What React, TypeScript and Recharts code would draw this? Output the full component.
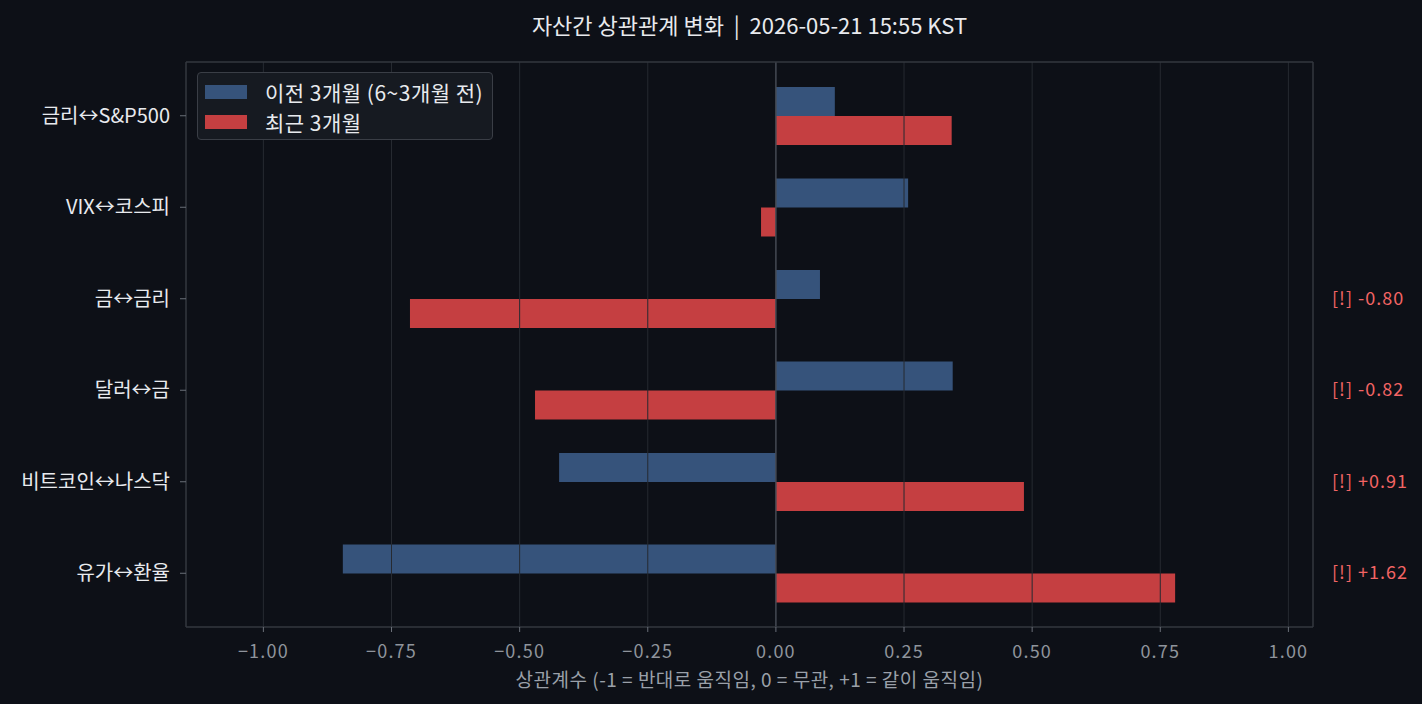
import React from 'react';
import { BarChart, Bar, XAxis, YAxis, ReferenceLine } from 'recharts';

const categories = ['금리↔S&P500', 'VIX↔코스피', '금↔금리', '달러↔금', '비트코인↔나스닥', '유가↔환율'];
const prev3m = [0.115, 0.258, 0.086, 0.345, -0.423, -0.845];
const recent3m = [0.343, -0.029, -0.714, -0.470, 0.484, 0.779];
const alerts = ['', '', '[!] -0.80', '[!] -0.82', '[!] +0.91', '[!] +1.62'];
const xTicks = [-1, -0.75, -0.5, -0.25, 0, 0.25, 0.5, 0.75, 1];
const seriesNames = ['이전 3개월 (6~3개월 전)', '최근 3개월'];

const X_MIN = -1.151;
const X_MAX = 1.048;
const Y_PAD = 8;

const BG = '#0d1017';
const FRAME = '#33373f';
const GRID = '#262a31';
const BLUE = '#36537b';
const RED = '#c53f41';
const FONT = '"Noto Sans CJK KR", "Noto Sans", sans-serif';

const data = categories.map((name, i) => ({
  name,
  prev: prev3m[i],
  recent: recent3m[i],
}));

const fmtTick = (v: number) => (v < 0 ? '\u2212' + Math.abs(v).toFixed(2) : v.toFixed(2));

const AlertTick = (props: any) => {
  const { x, y, payload } = props;
  const text = alerts[categories.indexOf(payload.value)] || '';
  if (!text) return null;
  return (
    <text x={x + 17} y={y} dy={6} fill="#f26464" fontSize={18} letterSpacing={1}
      fontFamily={FONT} textAnchor="start">
      {text}
    </text>
  );
};

const LegendBox = () => (
  <div
    style={{
      position: 'absolute', left: 197, top: 72, width: 294, height: 66,
      background: '#161a21', border: '1px solid #3a3e46', borderRadius: 4,
      boxSizing: 'content-box', fontFamily: FONT, color: '#e8eaee', fontSize: 21,
      letterSpacing: 0.5,
    }}
  >
    {seriesNames.map((label, i) => (
      <div key={label} style={{ position: 'absolute', left: 7, top: 4 + i * 30, height: 30, display: 'flex', alignItems: 'center', whiteSpace: 'nowrap' }}>
        <span style={{ display: 'inline-block', width: 42, height: 14, background: i === 0 ? BLUE : RED, marginRight: 18 }} />
        <span>{label}</span>
      </div>
    ))}
  </div>
);

export default function App() {
  return (
    <div style={{ position: 'absolute', left: 0, top: 0, width: 1422, height: 704, background: BG, overflow: 'hidden' }}>
      <div
        style={{
          position: 'absolute', left: 186, top: 9, width: 1127, textAlign: 'center',
          color: '#e8eaee', fontFamily: FONT, fontSize: 22, lineHeight: '30px', whiteSpace: 'pre',
        }}
      >
        {'자산간 상관관계 변화  |  2026-05-21 15:55 KST'}
      </div>
      <BarChart
        width={1422}
        height={704}
        data={data}
        layout="vertical"
        margin={{ top: 61, right: 0, bottom: 0, left: 0 }}
        barGap={0}
        barSize={29}
      >
        <XAxis
          type="number"
          domain={[X_MIN, X_MAX]}
          allowDataOverflow
          ticks={xTicks}
          tickFormatter={fmtTick}
          height={77}
          axisLine={{ stroke: FRAME, strokeWidth: 1.5 }}
          tickSize={5}
          tickMargin={13}
          tick={{ fill: '#8f949c', fontSize: 18, fontFamily: FONT, letterSpacing: 1.2 }}
          tickLine={{ stroke: '#6a6f78' }}
          label={{
            value: '상관계수 (-1 = 반대로 움직임, 0 = 무관, +1 = 같이 움직임)',
            position: 'insideBottom',
            offset: 17,
            fill: '#9aa0a9',
            fontSize: 19,
            fontFamily: FONT,
            letterSpacing: 0.5,
          }}
        />
        <XAxis
          xAxisId="top"
          orientation="top"
          type="number"
          domain={[X_MIN, X_MAX]}
          allowDataOverflow
          height={1}
          tick={false}
          tickLine={false}
          axisLine={{ stroke: FRAME, strokeWidth: 1.5 }}
        />
        <YAxis
          type="category"
          dataKey="name"
          width={186}
          padding={{ top: Y_PAD, bottom: Y_PAD }}
          axisLine={{ stroke: FRAME, strokeWidth: 1.5 }}
          tickSize={6}
          tickMargin={10}
          tickLine={{ stroke: '#6a6f78' }}
          tick={{ fill: '#e8eaee', fontSize: 20, fontFamily: FONT }}
        />
        <YAxis
          yAxisId="right"
          orientation="right"
          type="category"
          dataKey="name"
          width={109}
          padding={{ top: Y_PAD, bottom: Y_PAD }}
          axisLine={{ stroke: FRAME, strokeWidth: 1.5 }}
          tickLine={false}
          tickSize={0}
          tick={<AlertTick />}
        />
        <Bar dataKey="prev" name={seriesNames[0]} fill={BLUE} isAnimationActive={false} />
        <Bar dataKey="recent" name={seriesNames[1]} fill={RED} isAnimationActive={false} />
        {xTicks.filter((t) => t !== 0).map((t) => (
          <ReferenceLine key={t} x={t} stroke={GRID} strokeWidth={1} />
        ))}
        <ReferenceLine x={0} stroke="#454a53" strokeWidth={1.5} />
      </BarChart>
      <LegendBox />
    </div>
  );
}
